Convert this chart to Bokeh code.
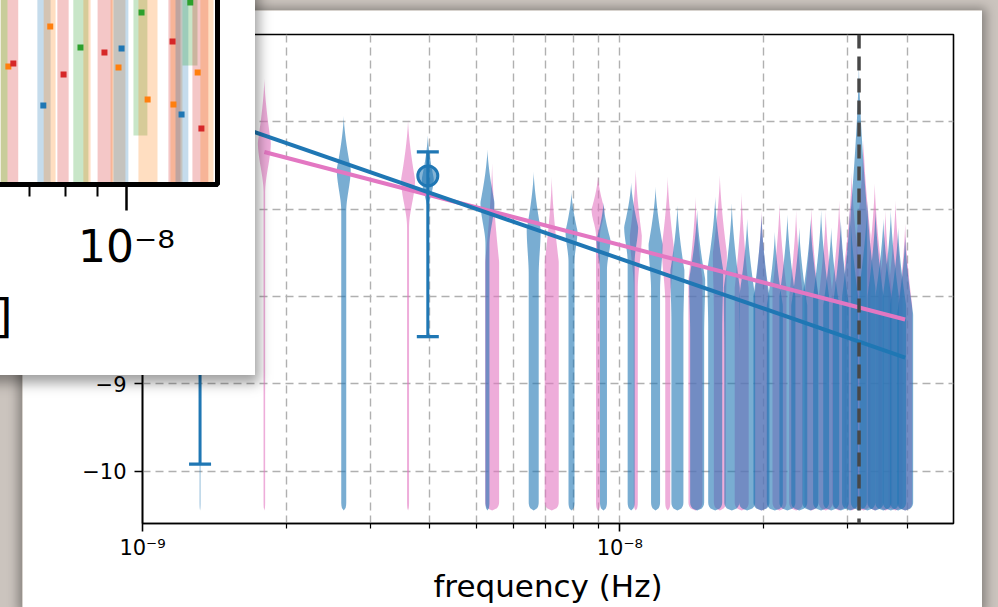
import numpy as np
from bokeh.plotting import figure
from bokeh.models import (FixedTicker, Span, Whisker, TeeHead, Column,
                          ColumnDataSource, CustomJSTickFormatter)
from bokeh.embed import file_html
from bokeh.resources import INLINE

# ---------------- main chart data ----------------
blue_freq_nhz = [1.32, 2.64, 3.96, 5.28, 6.60, 7.92, 9.24, 10.56, 11.88, 13.20,
                 14.52, 15.84, 17.16, 18.48, 19.80, 21.12, 22.44, 23.76, 25.08, 26.40,
                 27.72, 29.04, 30.36, 31.68, 33.00, 34.32, 35.64, 36.96, 38.28, 39.60]
blue_tip = [-6.30, -5.93, -6.15, -6.31, -6.57, -6.80, -6.92, -6.69, -6.74, -6.95,
            -7.00, -6.85, -6.92, -7.10, -7.05, -7.25, -7.05, -7.20, -7.10, -7.00,
            -7.20, -7.10, -6.95, -5.31, -6.90, -7.00, -7.10, -7.00, -7.20, -7.30]
blue_peak = [-7.20, -6.54, -6.65, -6.92, -7.23, -7.25, -7.35, -7.20, -7.40, -7.70,
             -7.80, -7.70, -7.90, -8.00, -8.00, -8.10, -8.00, -8.10, -8.00, -8.00,
             -8.10, -8.10, -8.00, -7.00, -7.90, -8.00, -8.00, -8.00, -8.10, -8.20]
blue_peak_w = [1.0, 7, 6, 7, 7, 6, 7, 7, 7, 7,
               8, 8, 8, 8, 8, 8, 8, 8, 8, 8,
               8, 8, 8, 8, 8, 8, 8, 8, 8, 8]
blue_tail_w = [0.4, 2.5, 0.0, 2, 5, 3, 3.5, 3.5, 4.5, 6,
               7, 7, 7.5, 8, 8, 8, 8, 8, 8, 8,
               8, 8, 8, 8, 8, 8, 8, 8, 8, 8]

pink_freq_nhz = [1.8, 3.6, 5.4, 7.2, 9.0, 10.8, 12.6, 14.4, 16.2, 18.0, 19.8,
                 21.6, 23.4, 25.2, 27.0, 28.8, 30.6, 32.4, 34.2, 36.0, 37.8, 39.6]
pink_tip = [-5.50, -5.97, -6.46, -6.62, -6.62, -6.54, -6.62, -6.85, -6.60, -6.80, -7.00,
            -6.92, -7.00, -6.96, -7.00, -6.89, -6.57, -6.20, -6.69, -7.00, -6.89, -7.15]
pink_peak = [-6.23, -6.66, -7.60, -7.60, -7.00, -7.30, -7.43, -7.80, -7.50, -7.90, -8.00,
             -7.90, -8.00, -8.00, -8.00, -7.90, -7.60, -7.30, -7.70, -8.00, -7.90, -8.10]
pink_peak_w = [6.5, 7, 7, 7, 6.5, 6, 6, 7, 7, 7, 7,
               7, 7, 7, 7, 7, 7, 7, 7, 7, 7, 7]
pink_tail_w = [0.8, 1.0, 7, 7, 2, 2, 2.5, 7, 6, 7, 7,
               7, 7, 7, 7, 7, 7, 7, 7, 7, 7, 7]
violin_floor = -10.45

blue_fit_freq_nhz = [1.32, 39.6]
blue_fit_val = [-5.90, -8.70]
pink_fit_freq_nhz = [1.8, 39.6]
pink_fit_val = [-6.345, -8.264]

err_freq_nhz = [1.32, 3.96]
err_val = [-7.90, -6.62]
err_lower = [-9.92, -8.46]
err_upper = [-6.90, -6.345]

one_year_nhz = 31.7

x_major = [1e-9, 1e-8]
x_minor = [2e-9, 3e-9, 4e-9, 5e-9, 6e-9, 7e-9, 8e-9, 9e-9, 2e-8, 3e-8, 4e-8]
y_major = [-10, -9, -8, -7, -6]

# ---------------- inset (cropped second chart) data ----------------
inset_band_lo_nhz = [6.29, 6.29, 6.45, 7.20, 7.37, 7.75, 8.22, 8.53, 8.99, 9.43, 9.53, 10.26,
                     10.45, 11.67, 11.76, 11.98, 12.29, 12.75, 13.13]
inset_band_hi_nhz = [6.45, 6.45, 6.71, 7.56, 7.70, 8.08, 8.69, 8.76, 9.50, 9.96, 10.07, 10.80,
                     11.21, 12.20, 12.29, 12.56, 12.99, 13.52, 13.78]
inset_band_bottom = [-8, -8, -8, -8, -8, -8, -8, -8, -8, -8, -8, -7.617,
                     -8, -8, -8, -8, -7.07, -8, -8]
inset_band_color = ["#ff7f0e", "#2ca02c", "#d62728", "#1f77b4", "#ff7f0e", "#d62728", "#2ca02c",
                    "#ff7f0e", "#d62728", "#ff7f0e", "#1f77b4", "#2ca02c", "#ff7f0e", "#d62728",
                    "#ff7f0e", "#1f77b4", "#2ca02c", "#d62728", "#ff7f0e"]
inset_sq_nhz = [6.47, 6.59, 7.36, 7.55, 7.93, 8.44, 9.22, 9.82, 9.71, 10.57, 10.81, 11.85,
                11.89, 12.25, 13.00, 13.18, 12.65]
inset_sq_val = [-7.078, -7.055, -7.383, -6.766, -7.141, -6.930, -6.969, -6.938, -7.086,
                -6.656, -7.336, -6.883, -7.375, -7.453, -7.125, -7.563, -6.578]
inset_sq_color = ["#ff7f0e", "#d62728", "#1f77b4", "#ff7f0e", "#d62728", "#2ca02c", "#d62728",
                  "#1f77b4", "#ff7f0e", "#2ca02c", "#ff7f0e", "#d62728", "#ff7f0e", "#1f77b4",
                  "#ff7f0e", "#d62728", "#2ca02c"]
inset_major = [1e-8]
inset_minor = [3e-9, 4e-9, 5e-9, 6e-9, 7e-9, 8e-9, 9e-9]

BLUE = "#1f77b4"
PINK = "#e377c2"
FONT = "DejaVu Sans"
BEIGE = "#cbc4be"
PX_PER_DEC = 477.3

SUP_JS = """
const e = Math.round(Math.log10(tick));
const sup = {'-':'\\u207b','0':'\\u2070','1':'\\u00b9','2':'\\u00b2','3':'\\u00b3','4':'\\u2074','5':'\\u2075','6':'\\u2076','7':'\\u2077','8':'\\u2078','9':'\\u2079'};
return '10' + String(e).split('').map(c => sup[c]).join('');
"""


def violin_outline(f, tip, peak, wpk, wtail, bottom):
    ys = np.linspace(bottom, tip, 160)
    neck = 0.8 * (tip - peak)
    r = 0.09
    ws = []
    for y in ys:
        if y <= peak - neck:
            w = wtail
        elif y <= peak:
            s = (y - (peak - neck)) / neck
            s = s * s * (3 - 2 * s)
            w = wtail + (wpk - wtail) * s
        else:
            t = (y - peak) / (tip - peak)
            w = wpk * max(0.0, 1 - t) ** 1.5
        u = y - bottom
        if u < r:
            w *= np.sqrt(max(0.0, 1 - (1 - u / r) ** 2))
        ws.append(w)
    ws = np.array(ws)
    xr = f * 10 ** (ws / PX_PER_DEC)
    xl = f * 10 ** (-ws / PX_PER_DEC)
    return list(np.concatenate([xr, xl[::-1]])), list(np.concatenate([ys, ys[::-1]]))


def violin_source(freqs_nhz, tips, peaks, wpks, wtails):
    xs_all, ys_all = [], []
    for f, t, pk, wp, wt in zip(freqs_nhz, tips, peaks, wpks, wtails):
        xs, ys = violin_outline(f * 1e-9, t, pk, wp, wt, violin_floor)
        xs_all.append(xs)
        ys_all.append(ys)
    return ColumnDataSource(dict(xs=xs_all, ys=ys_all))


# ---------------- main chart ----------------
p = figure(width=960, height=597, x_axis_type="log", x_range=(1e-9, 5e-8),
           y_range=(-10.6, -5.0), output_backend="svg", toolbar_location=None,
           min_border_left=120, min_border_right=29, min_border_top=24,
           min_border_bottom=84,
           styles={"position": "absolute", "left": "22px", "top": "10px",
                   "box-shadow": "0px 2px 10px 4px rgba(0,0,0,0.34)", "z-index": "1"})
p.border_fill_color = "white"
p.background_fill_color = "white"
p.outline_line_color = "black"
p.outline_line_width = 1.6

xt = FixedTicker(ticks=x_major, minor_ticks=x_minor)
p.xaxis.ticker = xt
p.xgrid.ticker = xt
p.xaxis.formatter = CustomJSTickFormatter(code=SUP_JS)
p.yaxis.ticker = FixedTicker(ticks=y_major)
p.ygrid.ticker = FixedTicker(ticks=y_major)
p.yaxis.formatter = CustomJSTickFormatter(code="return tick <= -9 ? '\\u2212' + Math.abs(tick) : '';")

for ax in (p.xaxis[0], p.yaxis[0]):
    ax.axis_line_color = "black"
    ax.axis_line_width = 1.6
    ax.major_tick_line_color = "black"
    ax.major_tick_line_width = 1.6
    ax.major_tick_out = 8
    ax.major_tick_in = 0
    ax.minor_tick_line_color = "black"
    ax.minor_tick_line_width = 1.2
    ax.minor_tick_out = 5
    ax.minor_tick_in = 0
    ax.major_label_text_font = FONT
    ax.major_label_text_font_size = "21px"
    ax.major_label_text_color = "black"
p.yaxis.major_label_standoff = 8
p.xaxis.major_label_standoff = 4
p.xaxis.axis_label = "frequency (Hz)"
p.xaxis.axis_label_text_font = FONT
p.xaxis.axis_label_text_font_size = "31px"
p.xaxis.axis_label_text_font_style = "normal"
p.xaxis.axis_label_text_color = "black"
p.xaxis.axis_label_standoff = 5

for g in (p.xgrid[0], p.ygrid[0]):
    g.grid_line_color = "#b0b0b0"
    g.grid_line_dash = "8 5"
    g.grid_line_width = 1.4
p.xgrid.minor_grid_line_color = "#b0b0b0"
p.xgrid.minor_grid_line_dash = "8 5"
p.xgrid.minor_grid_line_width = 1.4

p.patches("xs", "ys", source=violin_source(pink_freq_nhz, pink_tip, pink_peak, pink_peak_w, pink_tail_w),
          fill_color=PINK, fill_alpha=0.6, line_color=None)
p.patches("xs", "ys", source=violin_source(blue_freq_nhz, blue_tip, blue_peak, blue_peak_w, blue_tail_w),
          fill_color=BLUE, fill_alpha=0.6, line_color=None)

p.line([f * 1e-9 for f in pink_fit_freq_nhz], pink_fit_val, line_color=PINK, line_width=4)
p.line([f * 1e-9 for f in blue_fit_freq_nhz], blue_fit_val, line_color=BLUE, line_width=4)

err_src = ColumnDataSource(dict(f=[f * 1e-9 for f in err_freq_nhz], v=err_val,
                                lo=err_lower, hi=err_upper))
p.add_layout(Whisker(base="f", lower="lo", upper="hi", source=err_src, dimension="height",
                     line_color=BLUE, line_width=3, level="glyph",
                     upper_head=TeeHead(size=22, line_color=BLUE, line_width=3.3),
                     lower_head=TeeHead(size=22, line_color=BLUE, line_width=3.3)))
p.scatter("f", "v", source=err_src, size=20, marker="circle", fill_color=BLUE,
          fill_alpha=0.55, line_color=BLUE, line_width=3)

p.add_layout(Span(location=one_year_nhz * 1e-9, dimension="height", line_color="#474747",
                  line_width=3.5, line_dash="14 8"))

# ---------------- inset: cropped corner of another chart ----------------
q = figure(width=466, height=575, x_axis_type="log", x_range=(2.888e-9, 1.3985e-8),
           y_range=(-8.0, -5.0), output_backend="svg", toolbar_location=None,
           min_border_left=0, min_border_right=38, min_border_top=0, min_border_bottom=191,
           styles={"position": "absolute", "left": "-211px", "top": "-200px",
                   "box-shadow": "3px 7px 12px 1px rgba(0,0,0,0.38)", "z-index": "5"})
q.border_fill_color = "white"
q.background_fill_color = "white"
q.outline_line_color = "black"
q.outline_line_width = 5
q.grid.visible = False
q.yaxis.visible = False
it = FixedTicker(ticks=inset_major, minor_ticks=inset_minor)
q.xaxis.ticker = it
q.xaxis.formatter = CustomJSTickFormatter(code=SUP_JS)
q.xaxis.axis_line_color = "black"
q.xaxis.axis_line_width = 5
q.xaxis.major_tick_line_color = "black"
q.xaxis.major_tick_line_width = 2.5
q.xaxis.major_tick_out = 26
q.xaxis.major_tick_in = 0
q.xaxis.minor_tick_line_color = "black"
q.xaxis.minor_tick_line_width = 2
q.xaxis.minor_tick_out = 12
q.xaxis.minor_tick_in = 0
q.xaxis.major_label_text_font = FONT
q.xaxis.major_label_text_font_size = "44px"
q.xaxis.major_label_text_color = "black"
q.xaxis.major_label_standoff = 10
q.xaxis.axis_label = "]"
q.xaxis.axis_label_text_font = FONT
q.xaxis.axis_label_text_font_size = "46px"
q.xaxis.axis_label_text_font_style = "normal"
q.xaxis.axis_label_text_color = "black"
q.xaxis.axis_label_standoff = 14

q.quad(left=[f * 1e-9 for f in inset_band_lo_nhz], right=[f * 1e-9 for f in inset_band_hi_nhz],
       bottom=inset_band_bottom, top=[-5.0] * len(inset_band_lo_nhz),
       fill_color=inset_band_color, fill_alpha=0.26, line_color=None)
q.scatter([f * 1e-9 for f in inset_sq_nhz], inset_sq_val, marker="square", size=6,
          fill_color=inset_sq_color, line_color=None)

page_styles = {"position": "relative", "background-color": BEIGE, "overflow": "hidden"}
try:
    p.frame_align = False
    q.frame_align = False
    page = Column(children=[p, q], width=998, height=607, sizing_mode="fixed", styles=page_styles)
except Exception:
    page = Column(children=[Column(children=[p]), Column(children=[q])],
                  width=998, height=607, sizing_mode="fixed", styles=page_styles)

open("out.html", "w").write(file_html(page, INLINE))
